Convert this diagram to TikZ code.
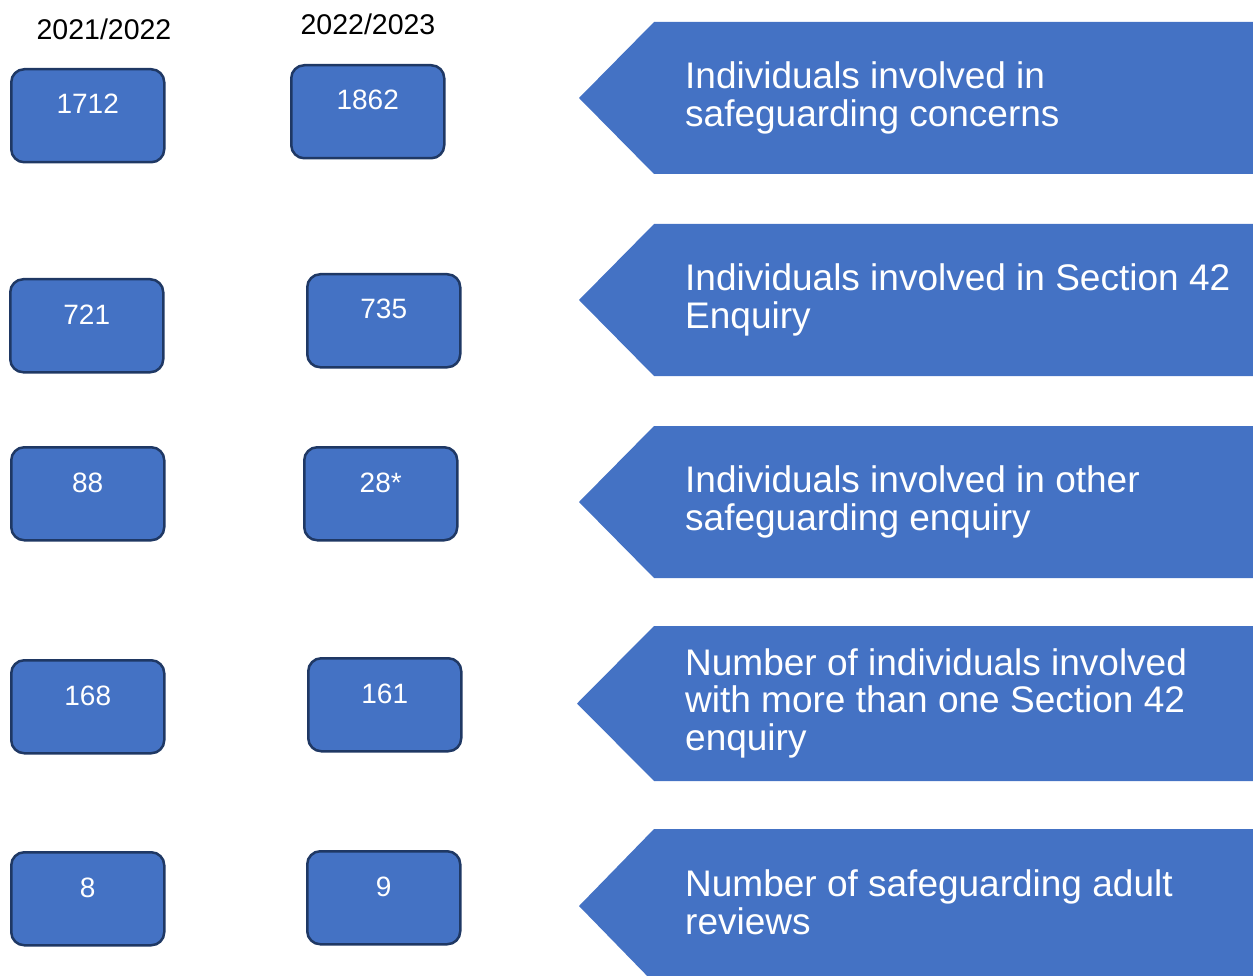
\documentclass[tikz,border=0pt]{standalone}
\usepackage{fontspec}
\setmainfont{Liberation Sans}
\usetikzlibrary{calc}
\definecolor{boxblue}{HTML}{4472C4}
\definecolor{boxedge}{HTML}{1F3864}
\begin{document}
\begin{tikzpicture}[x=1pt,y=-1pt,
  numbox/.style={draw=boxedge, line width=2.5pt, fill=boxblue, rounded corners=13pt,
    minimum width=153pt, minimum height=93pt, inner sep=0pt, anchor=north west},
  numtxt/.style={text=white, anchor=base, inner sep=0pt, font=\fontsize{28}{30}\selectfont},
  yeartxt/.style={text=black, anchor=base, inner sep=0pt, font=\fontsize{28.5}{30}\selectfont},
  banner/.style={fill=boxblue},
  bantxt/.style={text=white, anchor=west, align=left, inner sep=0pt, text depth=8pt,
    font=\fontsize{37}{37.5}\selectfont}]
\useasboundingbox (0,0) rectangle (1253,976);

% years
\node[yeartxt] (y1) at (104,40) {2021/2022};
\node[yeartxt] (y2) at (368,35) {2022/2023};

% boxes: name, top-left, value
\foreach \n/\x/\y/\v in {a1/10/68/1712, b1/290/64/1862,
                         a2/9/278/721,  b2/306/273/735,
                         a3/10/446/88,  b3/303/446/28*,
                         a4/10/659/168, b4/307/657/161,
                         a5/10/851/8,   b5/306/850/9}{
  \node[numbox] (\n) at (\x,\y) {};
  \node[numtxt] (t\n) at ($(\n.north)+(0,46)$) {\v};
}

% banners
\foreach \n/\c/\h/\tip in {1/98/76/579, 2/300/76/579, 3/502/76/579, 4/703.5/77.5/577, 5/906/77/579}{
  \fill[banner] (\tip,\c) -- (654,\c-\h) -- (1260,\c-\h) -- (1260,\c+\h) -- (654,\c+\h) -- cycle;
  \coordinate (c\n) at (685,\c);
}
\node[bantxt] (l1) at (c1) {Individuals involved in\\safeguarding concerns};
\node[bantxt] (l2) at (c2) {Individuals involved in Section 42\\Enquiry};
\node[bantxt] (l3) at (c3) {Individuals involved in other\\safeguarding enquiry};
\node[bantxt] (l4) at (c4) {Number of individuals involved\\with more than one Section 42\\enquiry};
\node[bantxt] (l5) at (c5) {Number of safeguarding adult\\reviews};
\end{tikzpicture}
\end{document}
